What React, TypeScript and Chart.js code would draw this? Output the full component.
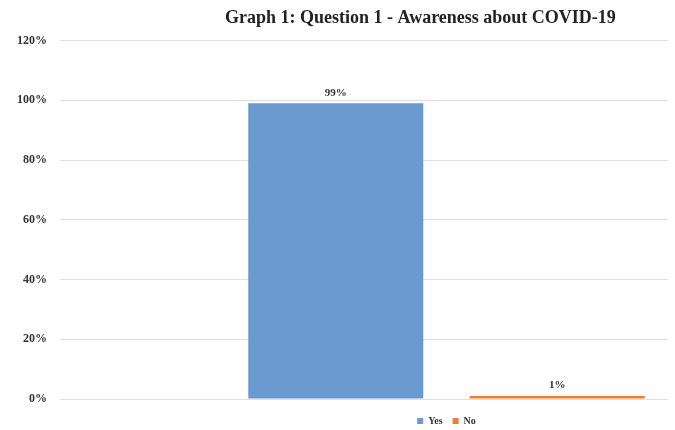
import { useEffect, useRef } from 'react';
import { Chart, registerables } from 'chart.js';

Chart.register(...registerables);

const categories = ['Yes', 'No'];
const seriesNames = ['Yes', 'No'];
const yesValues: (number | null)[] = [99, null];
const noValues: (number | null)[] = [null, 1];
const yTickMin = 0;
const yTickMax = 120;
const yTickStep = 20;
const titleText = 'Graph 1: Question 1 - Awareness about COVID-19';

const FONT = '"Liberation Serif", "Times New Roman", serif';

const valueLabels = {
  id: 'valueLabels',
  afterDatasetsDraw(chart: any) {
    const ctx = chart.ctx;
    ctx.save();
    ctx.font = `bold 11px ${FONT}`;
    ctx.fillStyle = '#333333';
    ctx.textAlign = 'center';
    ctx.textBaseline = 'bottom';
    chart.data.datasets.forEach((ds: any, i: number) => {
      const meta = chart.getDatasetMeta(i);
      meta.data.forEach((el: any, j: number) => {
        const v = ds.data[j];
        if (v == null) return;
        ctx.fillText(`${v}%`, el.x, el.y - 5);
      });
    });
    ctx.restore();
  },
};

export default function App() {
  const canvasRef = useRef<HTMLCanvasElement | null>(null);

  useEffect(() => {
    document.body.style.margin = '0';
    const canvas = canvasRef.current;
    if (!canvas) return;
    const chart = new Chart(canvas, {
      type: 'bar',
      data: {
        labels: categories,
        datasets: [
          {
            label: seriesNames[0],
            data: yesValues,
            backgroundColor: '#6A9AD0',
            grouped: false,
            categoryPercentage: 1,
            barPercentage: 0.79,
          },
          {
            label: seriesNames[1],
            data: noValues,
            backgroundColor: '#ED7D31',
            grouped: false,
            categoryPercentage: 1,
            barPercentage: 0.79,
          },
        ] as any,
      },
      options: {
        animation: false,
        responsive: true,
        maintainAspectRatio: false,
        layout: { padding: { left: 0, right: 7, top: 0, bottom: -6 } },
        scales: {
          x: {
            display: true,
            offset: true,
            ticks: { display: false },
            grid: { display: false },
            border: { display: false },
            afterFit: (scale: any) => {
              scale.height = 7;
            },
          },
          y: {
            min: yTickMin,
            max: yTickMax,
            ticks: {
              stepSize: yTickStep,
              callback: (v: any) => `${v}%`,
              font: { family: FONT, size: 12, weight: 'bold' },
              color: '#333333',
              padding: 13,
            },
            grid: {
              color: '#e0e0e0',
              lineWidth: 1,
              tickLength: 165,
              drawTicks: true,
            },
            border: { display: false },
            afterFit: (scale: any) => {
              scale.width = 225;
            },
          },
        },
        plugins: {
          title: {
            display: true,
            text: titleText,
            fullSize: false,
            align: 'start',
            color: '#222222',
            font: { family: FONT, size: 18, weight: 'bold' },
            padding: { top: 8, bottom: 11 },
          },
          legend: {
            display: true,
            position: 'bottom',
            fullSize: false,
            align: 'center',
            labels: {
              boxWidth: 6,
              boxHeight: 6,
              padding: 10,
              color: '#333333',
              font: { family: FONT, size: 10, weight: 'bold' },
            },
          },
          tooltip: { enabled: false },
        },
      } as any,
      plugins: [valueLabels],
    });
    return () => chart.destroy();
  }, []);

  return (
    <div style={{ position: 'relative', width: 675, height: 430 }}>
      <canvas ref={canvasRef} />
    </div>
  );
}
